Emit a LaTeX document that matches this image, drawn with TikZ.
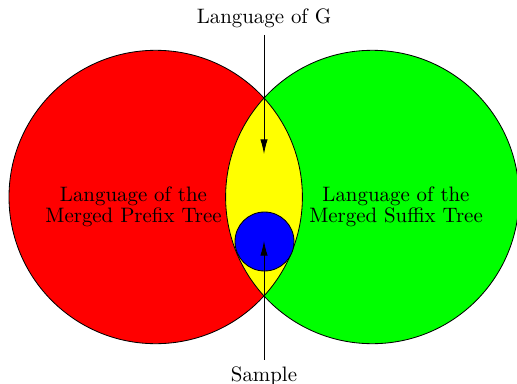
\documentclass[tikz,border=0pt]{standalone}
\usepackage{xcolor}
\usepackage{tikz}
\usetikzlibrary{arrows.meta}
\definecolor{figline}{RGB}{0,0,0}
\definecolor{prefred}{RGB}{255,0,0}
\definecolor{suffgreen}{RGB}{0,255,0}
\definecolor{lensyellow}{RGB}{255,255,0}
\definecolor{sampblue}{RGB}{0,0,255}
\newcommand{\setrad}{146.7}
\tikzset{
  setl/.style ={draw=figline, line width=0.4pt},
  lab/.style  ={font=\fontsize{10}{10.3}\selectfont, align=center, inner sep=1pt},
  labo/.style ={font=\normalsize, inner sep=3.3pt},
  ptr/.style  ={draw=figline, line width=0.4pt, -{Latex[length=7pt,width=3.5pt]}},
}
\begin{document}
\begin{tikzpicture}[x=0.479pt,y=-0.479pt]
  \useasboundingbox (0,0) rectangle (517,384);
  \coordinate (pc) at (155.7,197);
  \coordinate (sc) at (372.3,197);
  \coordinate (bc) at (264.5,241.5);
  \fill[prefred] (pc) circle[radius=\setrad];
  \fill[suffgreen] (sc) circle[radius=\setrad];
  \begin{scope}
    \clip (pc) circle[radius=\setrad];
    \fill[lensyellow] (sc) circle[radius=\setrad];
  \end{scope}
  \draw[setl] (pc) circle[radius=\setrad];
  \draw[setl] (sc) circle[radius=\setrad];
  \draw[setl,fill=sampblue] (bc) circle[radius=29.5];
  \node[lab] (preftxt) at (133.5,207) {Language of the\\Merged Prefix Tree};
  \node[lab] (sufftxt) at (396,207) {Language of the\\Merged Suffix Tree};
  \node[labo] (langg) at (264,18) {Language of G};
  \node[labo] (samp) at (264,376.5) {Sample};
  \coordinate (gtip) at (264,154);
  \coordinate (stip) at (264,241);
  \draw[ptr] (langg) -- (gtip);
  \draw[ptr] (samp) -- (stip);
\end{tikzpicture}
\end{document}
